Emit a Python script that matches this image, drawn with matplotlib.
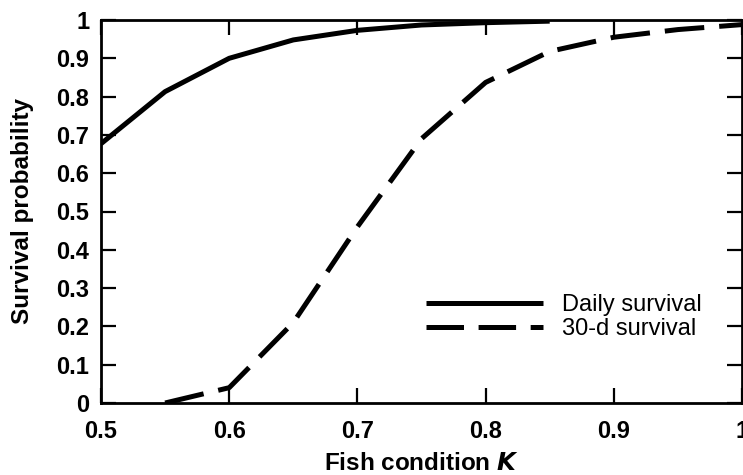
import matplotlib
matplotlib.use("Agg")
import matplotlib.pyplot as plt
from matplotlib.lines import Line2D

plt.rcParams['font.family'] = ['Liberation Sans', 'DejaVu Sans']
plt.rcParams['lines.scale_dashes'] = False

# Data
k_daily = [0.50, 0.55, 0.60, 0.65, 0.70, 0.75, 0.80, 0.85]
daily_survival = [0.677, 0.813, 0.900, 0.948, 0.973, 0.987, 0.993, 0.997]

k_30d = [0.55, 0.60, 0.65, 0.70, 0.75, 0.80, 0.85, 0.90, 0.95, 1.00]
survival_30d = [0.0, 0.04, 0.21, 0.46, 0.69, 0.837, 0.918, 0.955, 0.975, 0.988]

x_ticks = [0.5, 0.6, 0.7, 0.8, 0.9, 1.0]
x_tick_labels = ["0.5", "0.6", "0.7", "0.8", "0.9", "1"]
y_ticks = [0, 0.1, 0.2, 0.3, 0.4, 0.5, 0.6, 0.7, 0.8, 0.9, 1.0]
y_tick_labels = ["0", "0.1", "0.2", "0.3", "0.4", "0.5", "0.6", "0.7", "0.8", "0.9", "1"]

labels = ["Daily survival", "30-d survival"]

fig = plt.figure(figsize=(7.43, 4.75), dpi=100)
ax = fig.add_axes([101 / 743, 1 - 403 / 475, 641 / 743, 383 / 475])

lw = 3.6
dash = (28.5, 10.8)
ax.plot(k_daily, daily_survival, color='black', lw=lw, solid_capstyle='butt')
ax.plot(k_30d, survival_30d, color='black', lw=lw, dashes=dash, dash_capstyle='butt')

ax.set_xlim(0.5, 1.0)
ax.set_ylim(0, 1.0)
ax.set_xticks(x_ticks)
ax.set_xticklabels(x_tick_labels)
ax.set_yticks(y_ticks)
ax.set_yticklabels(y_tick_labels)

for s in ax.spines.values():
    s.set_linewidth(2.0)

ax.tick_params(axis='both', which='major', direction='in', length=11, width=1.6,
               top=True, right=True, labelsize=17)
ax.tick_params(axis='x', pad=12.5)
ax.tick_params(axis='y', pad=8.5)
for lab in ax.get_xticklabels() + ax.get_yticklabels():
    lab.set_fontweight('bold')

ax.set_xlabel("Fish condition $\\bfit{K}$", fontsize=17.5, fontweight='bold', labelpad=6)
ax.set_ylabel("Survival probability", fontsize=17.5, fontweight='bold')
ax.yaxis.set_label_coords(-0.104, 0.5)

handles = [Line2D([], [], color='black', lw=lw, solid_capstyle='butt'),
           Line2D([], [], color='black', lw=lw, dashes=(27, 10.5), dash_capstyle='butt')]
ax.legend(handles, labels, loc='center left', bbox_to_anchor=(0.507, 0.224),
          frameon=False, fontsize=17, handlelength=4.95, handletextpad=0.8,
          labelspacing=0.1, borderpad=0, borderaxespad=0)

fig.savefig("out.png", dpi=100)
